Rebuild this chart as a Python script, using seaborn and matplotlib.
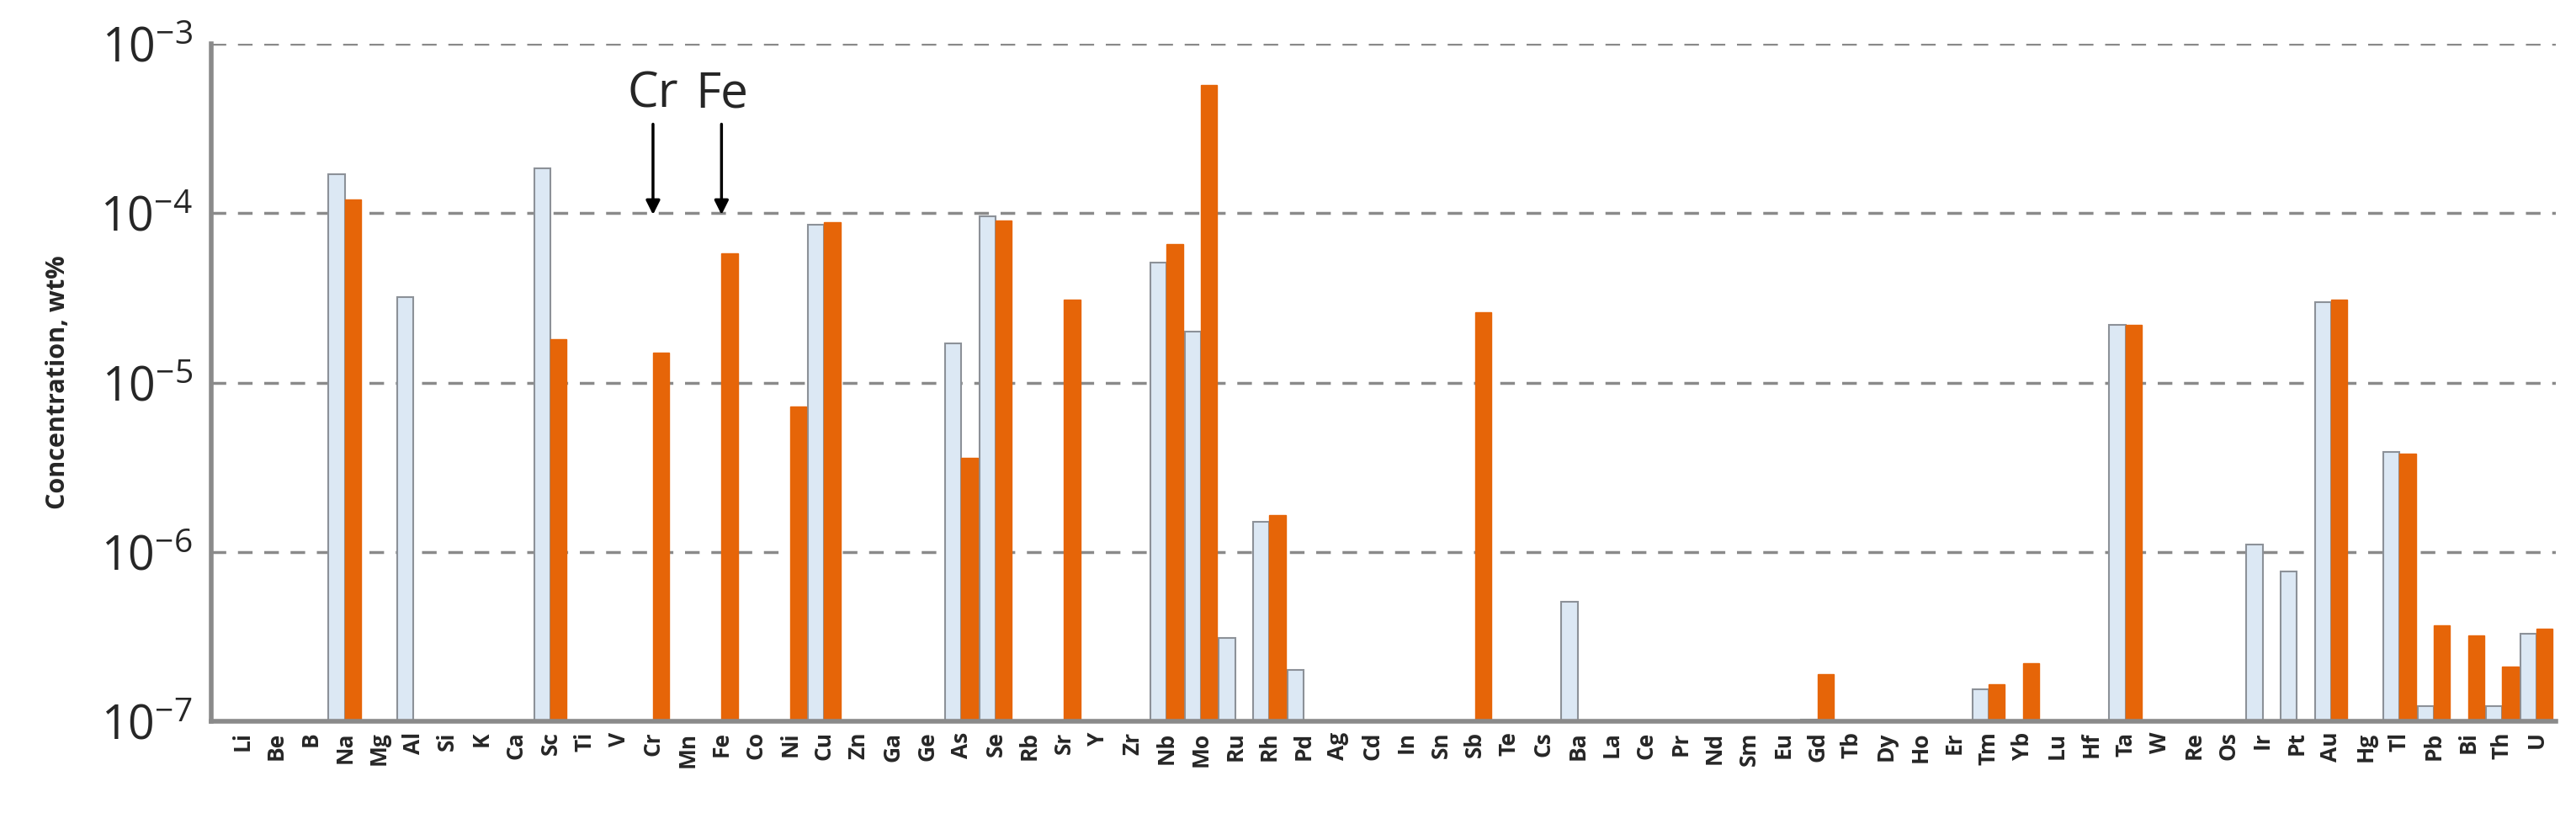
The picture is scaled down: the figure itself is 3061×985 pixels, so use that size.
import numpy as np
import pandas as pd
import matplotlib
matplotlib.use('Agg')
import matplotlib.pyplot as plt
import seaborn as sns

elements = ['Li', 'Be', 'B', 'Na', 'Mg', 'Al', 'Si', 'K', 'Ca', 'Sc', 'Ti', 'V', 'Cr', 'Mn', 'Fe', 'Co',
            'Ni', 'Cu', 'Zn', 'Ga', 'Ge', 'As', 'Se', 'Rb', 'Sr', 'Y', 'Zr', 'Nb', 'Mo', 'Ru', 'Rh', 'Pd',
            'Ag', 'Cd', 'In', 'Sn', 'Sb', 'Te', 'Cs', 'Ba', 'La', 'Ce', 'Pr', 'Nd', 'Sm', 'Eu', 'Gd', 'Tb',
            'Dy', 'Ho', 'Er', 'Tm', 'Yb', 'Lu', 'Hf', 'Ta', 'W', 'Re', 'Os', 'Ir', 'Pt', 'Au', 'Hg', 'Tl',
            'Pb', 'Bi', 'Th', 'U']

# light blue series (sparse, everything else empty)
blue = {'Na': 1.7e-4, 'Al': 3.2e-5, 'Sc': 1.85e-4, 'Cu': 8.6e-5, 'As': 1.7e-5, 'Se': 9.6e-5,
        'Nb': 5.1e-5, 'Mo': 2.0e-5, 'Ru': 3.1e-7, 'Rh': 1.5e-6, 'Pd': 2.0e-7, 'Ba': 5.1e-7,
        'Gd': 1.02e-7, 'Tm': 1.55e-7, 'Ta': 2.2e-5, 'Ir': 1.1e-6, 'Pt': 7.7e-7, 'Au': 3.0e-5,
        'Tl': 3.9e-6, 'Pb': 1.23e-7, 'Th': 1.23e-7, 'U': 3.3e-7}
# orange series
orange = {'Na': 1.2e-4, 'Sc': 1.8e-5, 'Cr': 1.5e-5, 'Fe': 5.8e-5, 'Ni': 7.2e-6, 'Cu': 8.9e-5,
          'As': 3.6e-6, 'Se': 9.1e-5, 'Sr': 3.1e-5, 'Nb': 6.6e-5, 'Mo': 5.7e-4, 'Rh': 1.65e-6,
          'Sb': 2.6e-5, 'Gd': 1.9e-7, 'Tm': 1.65e-7, 'Yb': 2.2e-7, 'Ta': 2.2e-5, 'Au': 3.1e-5,
          'Tl': 3.8e-6, 'Pb': 3.7e-7, 'Bi': 3.2e-7, 'Th': 2.1e-7, 'U': 3.5e-7}

rows = []
for el in elements:
    rows.append({'element': el, 'series': 'A', 'value': blue.get(el, np.nan)})
    rows.append({'element': el, 'series': 'B', 'value': orange.get(el, np.nan)})
df = pd.DataFrame(rows)

sns.set_style('white')
plt.rcParams['font.family'] = ['Open Sans', 'DejaVu Sans']
plt.rcParams['mathtext.fontset'] = 'custom'
plt.rcParams['mathtext.rm'] = 'Open Sans'
plt.rcParams['mathtext.it'] = 'Open Sans'
fig = plt.figure(figsize=(30.61, 9.85), dpi=100)
ax = fig.add_axes([0.082, 0.13, 0.91, 0.817])

ax.set_yscale('log')
sns.barplot(data=df, x='element', y='value', hue='series', order=elements,
            palette={'A': '#dce8f4', 'B': '#e66508'}, width=0.95, legend=False,
            saturation=1, ax=ax, errorbar=None)
for bar in ax.containers[0]:
    bar.set_edgecolor('#8c9198')
    bar.set_linewidth(1.5)
for bar in ax.containers[1]:
    bar.set_edgecolor('#e66508')

ax.set_ylim(1e-7, 1e-3)
ax.set_xlim(-0.9, len(elements) - 0.45)
ax.set_yticks([1e-7, 1e-6, 1e-5, 1e-4, 1e-3])
ax.set_yticklabels([r'10$^{-7}$', r'10$^{-6}$', r'10$^{-5}$', r'10$^{-4}$', r'10$^{-3}$'], fontsize=40)
ax.minorticks_off()
ax.yaxis.grid(True, linestyle=(0, (5, 4)), color='#8a8a8a', linewidth=2.5)
ax.set_axisbelow(True)
ax.tick_params(axis='y', length=10, width=3, color='#8a8a8a', pad=6)
ax.tick_params(axis='x', length=10, width=3, color='#8a8a8a', direction='inout', pad=4)
ax.set_xticks(range(len(elements)))
ax.set_xticklabels(elements, rotation=90, fontsize=19, fontweight='bold')
for s in ['top', 'right']:
    ax.spines[s].set_visible(False)
for s in ['left', 'bottom']:
    ax.spines[s].set_color('#8a8a8a')
    ax.spines[s].set_linewidth(4)
ax.set_xlabel('')
ax.set_ylabel('Concentration, wt%', fontsize=22, fontweight='bold', labelpad=25)

for el in ['Cr', 'Fe']:
    i = elements.index(el)
    ax.annotate(el, xy=(i, 0.95e-4), xytext=(i, 3.6e-4), ha='center', va='bottom', fontsize=42,
                arrowprops=dict(arrowstyle='-|>', color='black', lw=2.5, mutation_scale=25))

fig.savefig('out.png', dpi=100)
